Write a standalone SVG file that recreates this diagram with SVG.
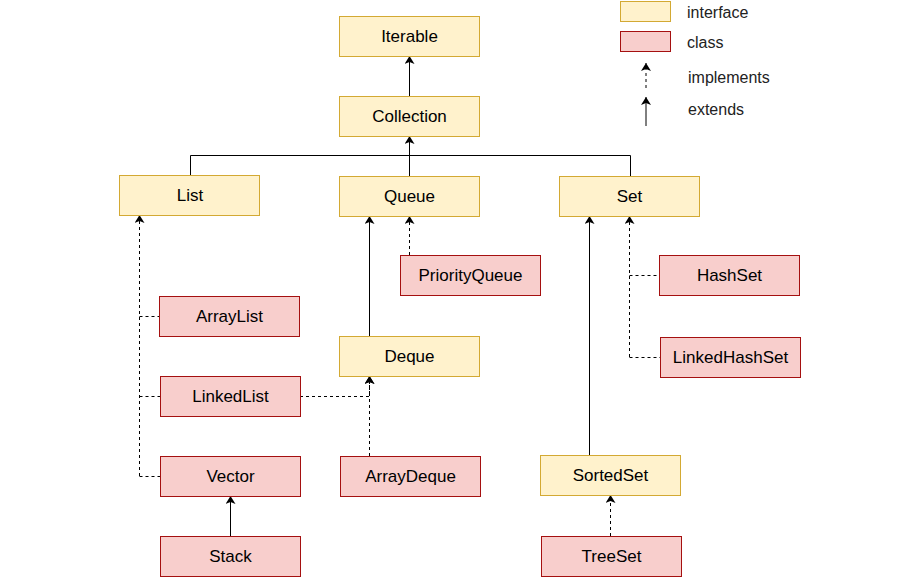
<svg xmlns="http://www.w3.org/2000/svg" width="920" height="578" viewBox="0 0 920 578">
<style>
.i rect{fill:#fff2cc;stroke:#d3a933;stroke-width:1}
.c rect{fill:#f8cecc;stroke:#a51010;stroke-width:1}
text{font-family:"Liberation Sans",Arial,sans-serif;font-size:17px;fill:#000;text-anchor:middle;dominant-baseline:central}
.lg{text-anchor:start;fill:#222;font-size:16px}
.s{fill:none;stroke:#000;stroke-width:1}
.d{fill:none;stroke:#000;stroke-width:1;stroke-dasharray:3 3}
</style>
<defs>
<marker id="a" viewBox="0 0 8 10" refX="8" refY="5" markerWidth="8" markerHeight="10" markerUnits="userSpaceOnUse" orient="auto">
<path d="M0,0 L8,5 L0,10 L2,5 Z" fill="#000"/>
</marker>
</defs>
<rect width="920" height="578" fill="#fff"/>
<g id="legend">
<rect x="620.5" y="1.5" width="50" height="20" fill="#fff2cc" stroke="#d3a933"/>
<rect x="620.5" y="31.5" width="50" height="20" fill="#f8cecc" stroke="#a51010"/>
<text class="lg" x="687" y="12">interface</text>
<text class="lg" x="687" y="42">class</text>
<line class="d" x1="646" y1="88" x2="646" y2="63" marker-end="url(#a)"/>
<line class="s" x1="646" y1="126" x2="646" y2="97" marker-end="url(#a)"/>
<text class="lg" x="688" y="77">implements</text>
<text class="lg" x="688" y="109">extends</text>
</g>
<g id="connectors">
<line class="s" x1="409.5" y1="96" x2="409.5" y2="56" marker-end="url(#a)"/>
<polyline class="s" points="190.5,175 190.5,155.5 630.5,155.5 630.5,176"/>
<line class="s" x1="409.5" y1="176" x2="409.5" y2="136" marker-end="url(#a)"/>
<line class="d" x1="409.5" y1="255" x2="409.5" y2="216" marker-end="url(#a)"/>
<line class="s" x1="369.5" y1="336" x2="369.5" y2="216" marker-end="url(#a)"/>
<line class="d" x1="139.5" y1="476" x2="139.5" y2="215" marker-end="url(#a)"/>
<line class="d" x1="139.5" y1="316.5" x2="159" y2="316.5"/>
<line class="d" x1="139.5" y1="396.5" x2="160" y2="396.5"/>
<line class="d" x1="139.5" y1="476.5" x2="160" y2="476.5"/>
<polyline class="d" points="300,396.5 369.5,396.5 369.5,376" marker-end="url(#a)"/>
<line class="d" x1="369.5" y1="456" x2="369.5" y2="376" marker-end="url(#a)"/>
<line class="s" x1="230.5" y1="536" x2="230.5" y2="496" marker-end="url(#a)"/>
<line class="s" x1="589.5" y1="455" x2="589.5" y2="216" marker-end="url(#a)"/>
<line class="d" x1="629.5" y1="357" x2="629.5" y2="216" marker-end="url(#a)"/>
<line class="d" x1="629.5" y1="275.5" x2="659" y2="275.5"/>
<line class="d" x1="629.5" y1="357.5" x2="660" y2="357.5"/>
<line class="d" x1="610.5" y1="536" x2="610.5" y2="495" marker-end="url(#a)"/>
</g>
<g id="Iterable" class="i"><rect x="339.5" y="16.5" width="140" height="40"/><text x="409.5" y="36.5">Iterable</text></g>
<g id="Collection" class="i"><rect x="339.5" y="96.5" width="140" height="40"/><text x="409.5" y="116.5">Collection</text></g>
<g id="List" class="i"><rect x="119.5" y="175.5" width="140" height="40"/><text x="190" y="195.5">List</text></g>
<g id="Queue" class="i"><rect x="339.5" y="176.5" width="140" height="40"/><text x="409.5" y="196">Queue</text></g>
<g id="Set" class="i"><rect x="559.5" y="176.5" width="140" height="40"/><text x="629.5" y="196">Set</text></g>
<g id="PriorityQueue" class="c"><rect x="400.5" y="255.5" width="140" height="40"/><text x="470.5" y="275">PriorityQueue</text></g>
<g id="ArrayList" class="c"><rect x="159.5" y="296.5" width="140" height="40"/><text x="229.5" y="316">ArrayList</text></g>
<g id="HashSet" class="c"><rect x="659.5" y="255.5" width="140" height="40"/><text x="729.5" y="275">HashSet</text></g>
<g id="Deque" class="i"><rect x="339.5" y="336.5" width="140" height="40"/><text x="409.5" y="356">Deque</text></g>
<g id="LinkedHashSet" class="c"><rect x="660.5" y="337.5" width="140" height="40"/><text x="730.5" y="357">LinkedHashSet</text></g>
<g id="LinkedList" class="c"><rect x="160.5" y="376.5" width="140" height="40"/><text x="230.5" y="396">LinkedList</text></g>
<g id="Vector" class="c"><rect x="160.5" y="456.5" width="140" height="40"/><text x="230.5" y="476">Vector</text></g>
<g id="ArrayDeque" class="c"><rect x="340.5" y="456.5" width="140" height="40"/><text x="410.5" y="476">ArrayDeque</text></g>
<g id="SortedSet" class="i"><rect x="540.5" y="455.5" width="140" height="40"/><text x="610.5" y="475">SortedSet</text></g>
<g id="Stack" class="c"><rect x="160.5" y="536.5" width="140" height="40"/><text x="230.5" y="556">Stack</text></g>
<g id="TreeSet" class="c"><rect x="541.5" y="536.5" width="140" height="40"/><text x="611.5" y="556">TreeSet</text></g>
</svg>
